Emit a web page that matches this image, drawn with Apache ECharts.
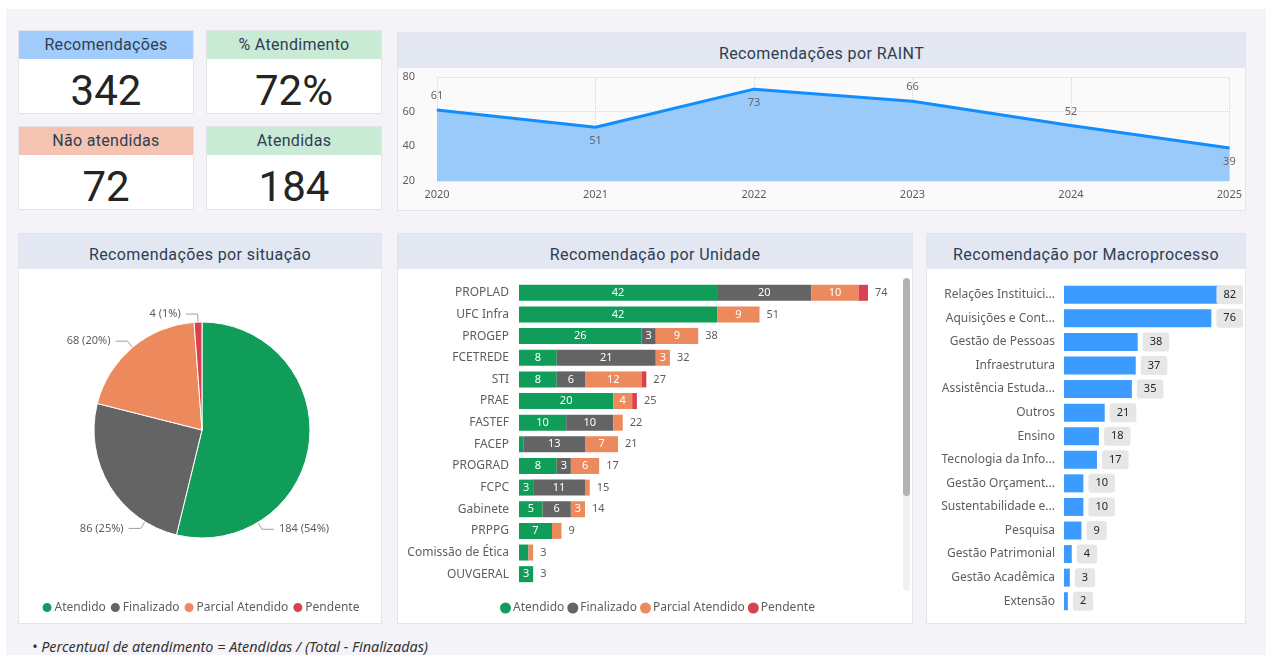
<!DOCTYPE html>
<html>
<head>
<meta charset="utf-8">
<script src="https://cdn.jsdelivr.net/npm/echarts@6/dist/echarts.min.js"></script>
<style>
body{margin:0;width:1266px;height:655px;background:#fff;overflow:hidden;font-family:'Noto Sans',sans-serif;position:relative;}
#fundo{position:absolute;left:6px;top:9px;width:1260px;height:646px;background:#F3F3F8;}
.card{position:absolute;background:#fff;border:1px solid #E3E5EB;box-sizing:border-box;overflow:hidden;}
.kpi-head{height:28px;line-height:28px;text-align:center;font-family:Roboto,sans-serif;font-size:16px;color:#2F3E52;letter-spacing:0.3px;}
.kpi-val{height:55px;line-height:64px;text-align:center;font-family:Roboto,sans-serif;font-size:42px;color:#252423;}
.head{height:35px;line-height:41px;overflow:hidden;background:#E3E7F1;text-align:center;font-family:Roboto,sans-serif;font-size:16px;color:#2E3D52;letter-spacing:0.4px;}
.chart{position:absolute;left:0;right:0;bottom:0;top:35px;}
#nota{position:absolute;left:32px;top:637px;font-size:14.4px;font-style:italic;color:#333;}
#trilho{position:absolute;left:505px;top:44px;width:7px;height:313px;background:#F1F1F1;border-radius:4px;}
#polegar{position:absolute;left:505px;top:44px;width:7px;height:218px;background:#B3B3B3;border-radius:4px;}
</style>
</head>
<body>
<div id="fundo"></div>

<div class="card" style="left:18px;top:30px;width:176px;height:84px;">
  <div class="kpi-head" style="background:#A2CCFB;">Recomendações</div>
  <div class="kpi-val" id="kpiTotal"></div>
</div>
<div class="card" style="left:206px;top:30px;width:176px;height:84px;">
  <div class="kpi-head" style="background:#C9EBD5;">% Atendimento</div>
  <div class="kpi-val" id="kpiPerc"></div>
</div>
<div class="card" style="left:18px;top:126px;width:176px;height:84px;">
  <div class="kpi-head" style="background:#F4C3B1;">Não atendidas</div>
  <div class="kpi-val" id="kpiNao"></div>
</div>
<div class="card" style="left:206px;top:126px;width:176px;height:84px;">
  <div class="kpi-head" style="background:#C9EBD5;">Atendidas</div>
  <div class="kpi-val" id="kpiAtend"></div>
</div>

<div class="card" style="left:397px;top:32px;width:849px;height:179px;">
  <div class="head">Recomendações por RAINT</div>
  <div class="chart" id="raint" style="background:#FAFAFA;"></div>
</div>

<div class="card" style="left:18px;top:233px;width:364px;height:391px;">
  <div class="head">Recomendações por situação</div>
  <div class="chart" id="situacao"></div>
</div>

<div class="card" style="left:397px;top:233px;width:516px;height:391px;">
  <div class="head">Recomendação por Unidade</div>
  <div class="chart" id="unidade"></div>
  <div id="trilho"></div><div id="polegar"></div>
</div>

<div class="card" style="left:926px;top:233px;width:320px;height:391px;">
  <div class="head">Recomendação por Macroprocesso</div>
  <div class="chart" id="macro"></div>
</div>

<div id="nota">• Percentual de atendimento = Atendidas / (Total - Finalizadas)</div>

<script>
// indicadores
var kpiTotal = 342;
var kpiPerc = '72%';
var kpiNao = 72;
var kpiAtend = 184;

// RAINT por ano
var anos = ['2020', '2021', '2022', '2023', '2024', '2025'];
var raint = [61, 51, 73, 66, 52, 39];

// situação
var situacoes = ['Atendido', 'Finalizado', 'Parcial Atendido', 'Pendente'];
var situacaoValores = [184, 86, 68, 4];

// por unidade
var unidades = ['PROPLAD', 'UFC Infra', 'PROGEP', 'FCETREDE', 'STI', 'PRAE', 'FASTEF', 'FACEP',
    'PROGRAD', 'FCPC', 'Gabinete', 'PRPPG', 'Comissão de Ética', 'OUVGERAL'];
var atendido   = [42, 42, 26, 8, 8, 20, 10, 1, 8, 3, 5, 7, 2, 3];
var finalizado = [20, 0, 3, 21, 6, 0, 10, 13, 3, 11, 6, 0, 0, 0];
var parcial    = [10, 9, 9, 3, 12, 4, 2, 7, 6, 1, 3, 2, 1, 0];
var pendente   = [2, 0, 0, 0, 1, 1, 0, 0, 0, 0, 0, 0, 0, 0];

// por macroprocesso
var macroprocessos = ['Relações Instituici...', 'Aquisições e Cont...', 'Gestão de Pessoas', 'Infraestrutura',
    'Assistência Estuda...', 'Outros', 'Ensino', 'Tecnologia da Info...', 'Gestão Orçament...',
    'Sustentabilidade e...', 'Pesquisa', 'Gestão Patrimonial', 'Gestão Acadêmica', 'Extensão'];
var macroValores = [82, 76, 38, 37, 35, 21, 18, 17, 10, 10, 9, 4, 3, 2];

var cores = ['#109D5A', '#646464', '#EC8A5E', '#D9414E'];
var fonte = 'Noto Sans';
var cinza = '#605E5C';

document.getElementById('kpiTotal').textContent = kpiTotal;
document.getElementById('kpiPerc').textContent = kpiPerc;
document.getElementById('kpiNao').textContent = kpiNao;
document.getElementById('kpiAtend').textContent = kpiAtend;

// grafico 1 - linha
var chartRaint = echarts.init(document.getElementById('raint'));
var posRotulo = ['top', 'bottom', 'bottom', 'top', 'top', 'bottom'];
chartRaint.setOption({
    animation: false,
    grid: {left: 39, right: 14, top: 9, bottom: 29},
    xAxis: {
        type: 'category',
        data: anos,
        boundaryGap: false,
        axisLine: {show: false},
        axisTick: {show: false},
        axisLabel: {color: cinza, fontSize: 11, fontFamily: fonte, margin: 8},
        splitLine: {show: true, lineStyle: {type: 'dotted', color: '#D6D6D6'}}
    },
    yAxis: {
        type: 'value',
        min: 20, max: 80, interval: 20,
        axisLabel: {color: cinza, fontSize: 11, fontFamily: fonte, margin: 22},
        splitLine: {lineStyle: {type: 'dotted', color: '#D6D6D6'}}
    },
    series: [{
        type: 'line',
        data: raint.map(function (v, i) {
            return {value: v, label: {position: posRotulo[i]}};
        }),
        symbol: 'circle',
        symbolSize: 1,
        lineStyle: {color: '#118DFF', width: 3},
        itemStyle: {color: '#118DFF'},
        areaStyle: {color: '#99CAF9', opacity: 1, origin: 'start'},
        label: {show: true, color: '#666', fontSize: 11, fontFamily: fonte, distance: 8}
    }]
});

// legenda comum
var legendaBase = {
    data: situacoes,
    bottom: 4,
    icon: 'circle',
    itemWidth: 11, itemHeight: 11, itemGap: 3,
    textStyle: {color: cinza, fontSize: 12, fontFamily: fonte, padding: [0, 0, 0, -3]}
};

// grafico 2 - pizza
// o Power BI joga os rótulos dos dois maiores para baixo; aqui uso pizzas
// transparentes giradas só para ancorar esses rótulos
function pizza(inicio, rotulos, visivel) {
    return {
        type: 'pie',
        center: [183, 161],
        radius: 108,
        percentPrecision: 0,
        startAngle: inicio,
        silent: !visivel,
        data: situacoes.map(function (n, i) {
            var mostra = rotulos.indexOf(i) >= 0;
            return {name: n, value: situacaoValores[i], label: {show: mostra}, labelLine: {show: mostra}};
        }),
        itemStyle: visivel ? {borderColor: '#fff', borderWidth: 1} : {color: 'rgba(0,0,0,0)', borderWidth: 0},
        label: {formatter: '{c} ({d}%)', color: cinza, fontSize: 11, fontFamily: fonte, overflow: 'none'},
        labelLine: {length: 8, length2: 12, lineStyle: {color: '#A0A0A0'}}
    };
}
var chartSit = echarts.init(document.getElementById('situacao'));
chartSit.setOption({
    animation: false,
    color: cores,
    legend: echarts.util.merge({left: 'center'}, legendaBase),
    series: [pizza(90, [2, 3], true), pizza(38, [0], false), pizza(117, [1], false)]
});

// grafico 3 - barras empilhadas por unidade
var totais = unidades.map(function (u, i) {
    return atendido[i] + finalizado[i] + parcial[i] + pendente[i];
});
var seriesUnid = [atendido, finalizado, parcial, pendente].map(function (arr, k) {
    return {
        name: situacoes[k],
        type: 'bar',
        stack: 'u',
        barWidth: 16,
        data: arr,
        itemStyle: {color: cores[k]},
        label: {
            show: true, position: 'inside', color: '#fff', fontSize: 11, fontFamily: fonte,
            formatter: function (p) { return p.value >= 3 ? p.value : ''; }
        }
    };
});
seriesUnid.push({
    name: 'Total',
    type: 'bar',
    stack: 'u',
    barWidth: 16,
    data: totais.map(function () { return 0; }),
    itemStyle: {color: 'transparent'},
    label: {
        show: true, position: 'right', distance: 7, color: cinza, fontSize: 11, fontFamily: fonte,
        formatter: function (p) { return totais[p.dataIndex]; }
    }
});
var chartUnid = echarts.init(document.getElementById('unidade'));
chartUnid.setOption({
    animation: false,
    legend: echarts.util.merge({left: 97}, legendaBase),
    grid: {left: 121, width: 349, top: 13, bottom: 38},
    xAxis: {type: 'value', max: 'dataMax', show: false},
    yAxis: {
        type: 'category',
        data: unidades,
        inverse: true,
        axisLine: {show: false},
        axisTick: {show: false},
        axisLabel: {color: cinza, fontSize: 12, fontFamily: fonte, margin: 10}
    },
    series: seriesUnid
});

// grafico 4 - macroprocesso
var chartMacro = echarts.init(document.getElementById('macro'));
chartMacro.setOption({
    animation: false,
    grid: {left: 137, width: 159, top: 14, bottom: 10},
    xAxis: {type: 'value', max: 'dataMax', show: false},
    yAxis: {
        type: 'category',
        data: macroprocessos,
        inverse: true,
        axisLine: {show: false},
        axisTick: {show: false},
        axisLabel: {color: cinza, fontSize: 12, fontFamily: fonte, margin: 9}
    },
    series: [{
        type: 'bar',
        data: macroValores,
        barWidth: 18,
        itemStyle: {color: '#3C9BFF'},
        label: {
            show: true, position: 'right', distance: 5,
            color: '#252423', fontSize: 11, fontFamily: fonte,
            backgroundColor: '#E6E6E6', borderRadius: 3, padding: [4, 7]
        },
        labelLayout: function (p) {
            var limite = 316;
            var sobra = p.labelRect.x + p.labelRect.width - limite;
            if (sobra > 0) return {dx: -sobra};
        }
    }]
});
</script>
</body>
</html>
